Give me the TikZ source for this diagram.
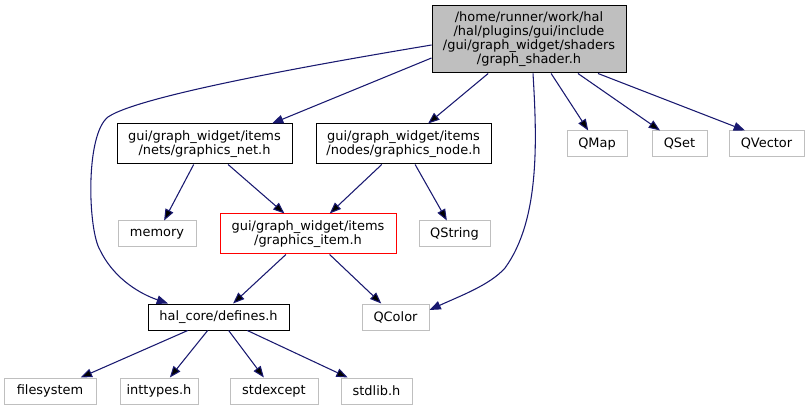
\documentclass[tikz,border=0pt]{standalone}
\usepackage{fontspec}
\setmainfont{DejaVu Sans}
\usetikzlibrary{arrows.meta}
\definecolor{edgeblue}{HTML}{191970}
\definecolor{boxgrey}{HTML}{BFBFBF}
\tikzset{
  incl/.style={draw=black, line width=0.75pt, inner sep=0pt, align=center,
    font=\fontsize{9.7}{10.5}\selectfont},
  sys/.style={incl, draw=boxgrey},
  dep/.style={->, draw=edgeblue, line width=0.8pt, >={Triangle[length=8.5pt,width=6.5pt]}}
}

\begin{document}
\begin{tikzpicture}[x=0.75pt,y=-0.75pt]
\useasboundingbox (0,0) rectangle (809,409);

\node[incl, fill=boxgrey, minimum width=145.5pt, minimum height=50.25pt] (shader) at (529,39.5)
  {/home/runner/work/hal\\/hal/plugins/gui/include\\/gui/graph\_widget/shaders\\/graph\_shader.h};

\node[incl, minimum width=131.25pt, minimum height=30pt] (net) at (204.5,144) {gui/graph\_widget/items\\/nets/graphics\_net.h};
\node[incl, minimum width=131.25pt, minimum height=30pt] (gnode) at (403.5,144) {gui/graph\_widget/items\\/nodes/graphics\_node.h};
\node[sys, minimum width=45pt, minimum height=19.5pt] (qmap) at (597,144) {QMap};
\node[sys, minimum width=41.25pt, minimum height=19.5pt] (qset) at (679.5,144) {QSet};
\node[sys, minimum width=56.25pt, minimum height=19.5pt] (qvector) at (766.5,144) {QVector};

\node[sys, minimum width=58.5pt, minimum height=19.5pt] (memory) at (157,234) {memory};
\node[incl, draw=red, minimum width=132pt, minimum height=30pt] (item) at (308,234) {gui/graph\_widget/items\\/graphics\_item.h};
\node[sys, minimum width=53.25pt, minimum height=19.5pt] (qstring) at (454.5,234) {QString};

\node[incl, minimum width=105.75pt, minimum height=19.5pt] (defines) at (218.5,317) {hal\_core/defines.h};
\node[sys, minimum width=50.25pt, minimum height=19.5pt] (qcolor) at (395.5,317) {QColor};

\node[sys, minimum width=69pt, minimum height=19.5pt] (filesystem) at (50,391) {filesystem};
\node[sys, minimum width=58.5pt, minimum height=19.5pt] (inttypes) at (159,391) {inttypes.h};
\node[sys, minimum width=66pt, minimum height=19.5pt] (stdexcept) at (274,391) {stdexcept};
\node[sys, minimum width=53.25pt, minimum height=19.5pt] (stdlib) at (376.5,391) {stdlib.h};

\draw[dep] ([shift={(0,5.5)}]shader.west) .. controls (330,62) and (140,95) .. (108,117)
  .. controls (85,135) and (88,230) .. (100,250)
  .. controls (112,275) and (135,292) .. ([shift={(-50.5,0)}]defines.north);
\draw[dep] ([shift={(0,18.5)}]shader.west) -- ([shift={(67.5,0)}]net.north);
\path[dep] (shader) edge (gnode);
\draw[dep] ([shift={(4,0)}]shader.south) .. controls (537,140) and (540,220) .. (505,268)
  .. controls (490,285) and (460,296) .. ([shift={(0,-7)}]qcolor.east);
\path[dep] (shader) edge (qmap);
\path[dep] (shader) edge (qset);
\draw[dep] ([shift={(69,0)}]shader.south) -- ([shift={(-21.5,0)}]qvector.north);

\path[dep] (net) edge (memory);
\path[dep] (net) edge (item);
\path[dep] (gnode) edge (item);
\path[dep] (gnode) edge (qstring);

\path[dep] (item) edge (defines);
\path[dep] (item) edge (qcolor);

\path[dep] (defines) edge (filesystem);
\path[dep] (defines) edge (inttypes);
\path[dep] (defines) edge (stdexcept);
\path[dep] (defines) edge (stdlib);

\end{tikzpicture}
\end{document}
